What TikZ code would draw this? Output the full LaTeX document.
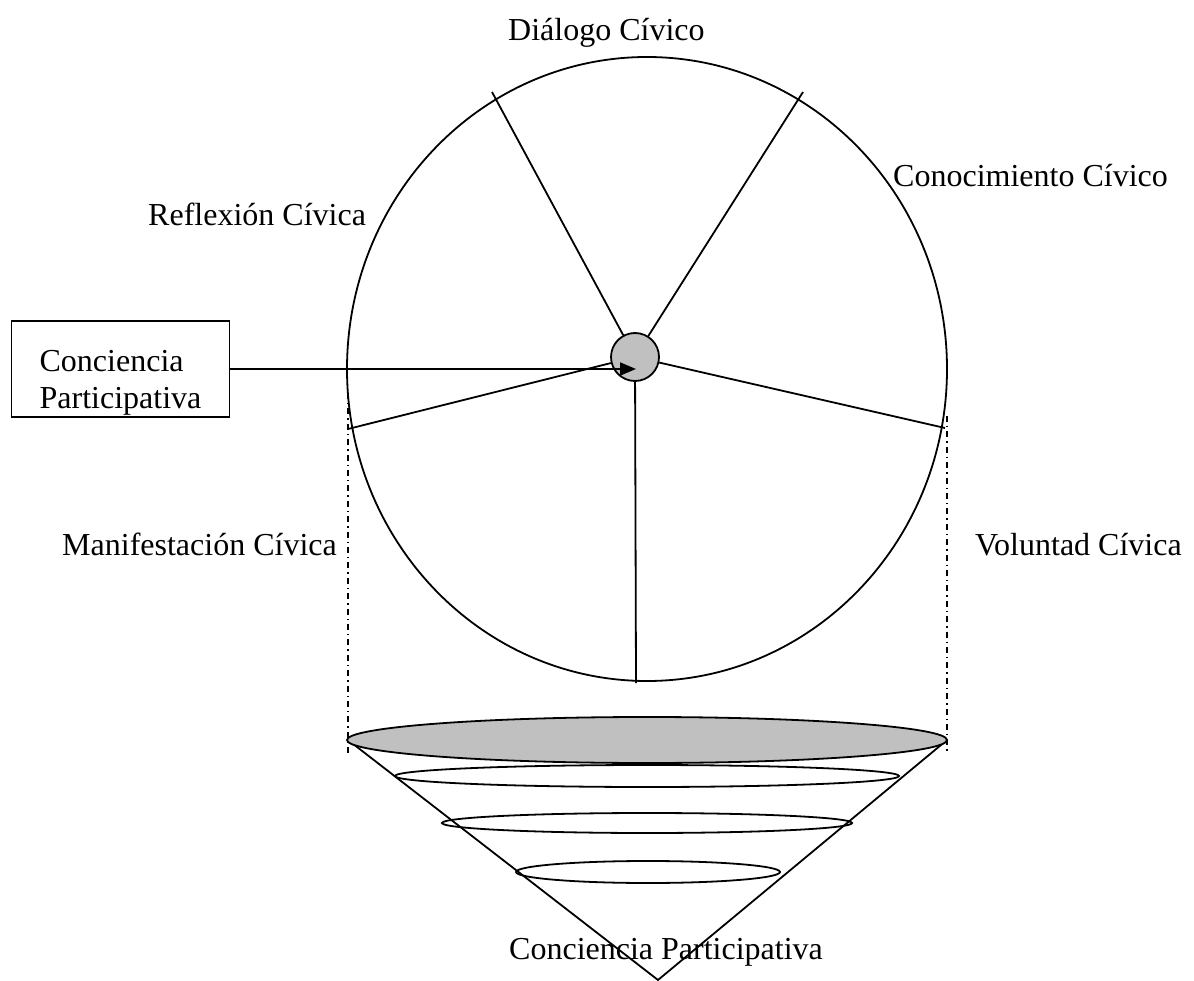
\documentclass[tikz,border=0pt]{standalone}
\usepackage{fontspec}
\setmainfont{Liberation Serif}
\usetikzlibrary{arrows.meta}
\definecolor{fillgray}{RGB}{192,192,192}
\begin{document}
\begin{tikzpicture}[x=1pt,y=-1pt,
  every node/.style={font=\fontsize{32}{36}\selectfont},
  stroke/.style={line width=1.8pt},
  label/.style={anchor=base west, inner sep=0pt},
  dashdot/.style={line width=1.4pt, dash pattern=on 6pt off 4pt on 1.4pt off 4pt}
]
\useasboundingbox (0,0) rectangle (1194,981);

% big circle
\draw[stroke] (647,369) ellipse [x radius=300pt, y radius=312pt];

% hub and spokes
\node[circle, draw, stroke, fill=fillgray, minimum size=48pt, inner sep=0pt] (hub) at (635,357) {};
\coordinate (eul) at (492,92);
\coordinate (eur) at (803,92);
\coordinate (er) at (945,428);
\coordinate (el) at (348,429);
\coordinate (eb) at (636,683);
\foreach \e in {eul,eur,er,el,eb} \draw[stroke] (hub) -- (\e);

% box and arrow
\node[draw, stroke, align=left, inner sep=0pt, minimum width=218pt, minimum height=96pt,
      text height=80pt, text depth=2pt] (box) at (120.5,369) {Conciencia\\Participativa};
\coordinate (tip) at (636,369);
\draw[stroke, -{Triangle[length=16pt,width=13pt]}] (box.east |- tip) -- (tip);

% dash-dot guides
\coordinate (gl1) at (348,393); \coordinate (gl2) at (348,753);
\coordinate (gr1) at (947,416); \coordinate (gr2) at (947,753);
\draw[dashdot] (gl1) -- (gl2);
\draw[dashdot] (gr1) -- (gr2);

% cone
\coordinate (cl) at (348,740);
\coordinate (cr) at (947,740);
\coordinate (apex) at (658,980);
\draw[stroke] (cl) -- (apex) -- (cr);
\draw[stroke] (647,776) ellipse [x radius=252pt, y radius=11pt];
\draw[stroke] (647,823) ellipse [x radius=205pt, y radius=10pt];
\draw[stroke] (648,872) ellipse [x radius=132pt, y radius=11pt];
\draw[stroke, fill=fillgray] (647,740) ellipse [x radius=300pt, y radius=23pt];

% labels
\node[label] (dialogo) at (508,41) {Diálogo Cívico};
\node[label] (conocimiento) at (893,187) {Conocimiento Cívico};
\node[label] (reflexion) at (148,226) {Reflexión Cívica};
\node[label] (manifestacion) at (62,555) {Manifestación Cívica};
\node[label] (voluntad) at (975,555) {Voluntad Cívica};
\node[label] (conciencia) at (509,959) {Conciencia Participativa};
\end{tikzpicture}
\end{document}
